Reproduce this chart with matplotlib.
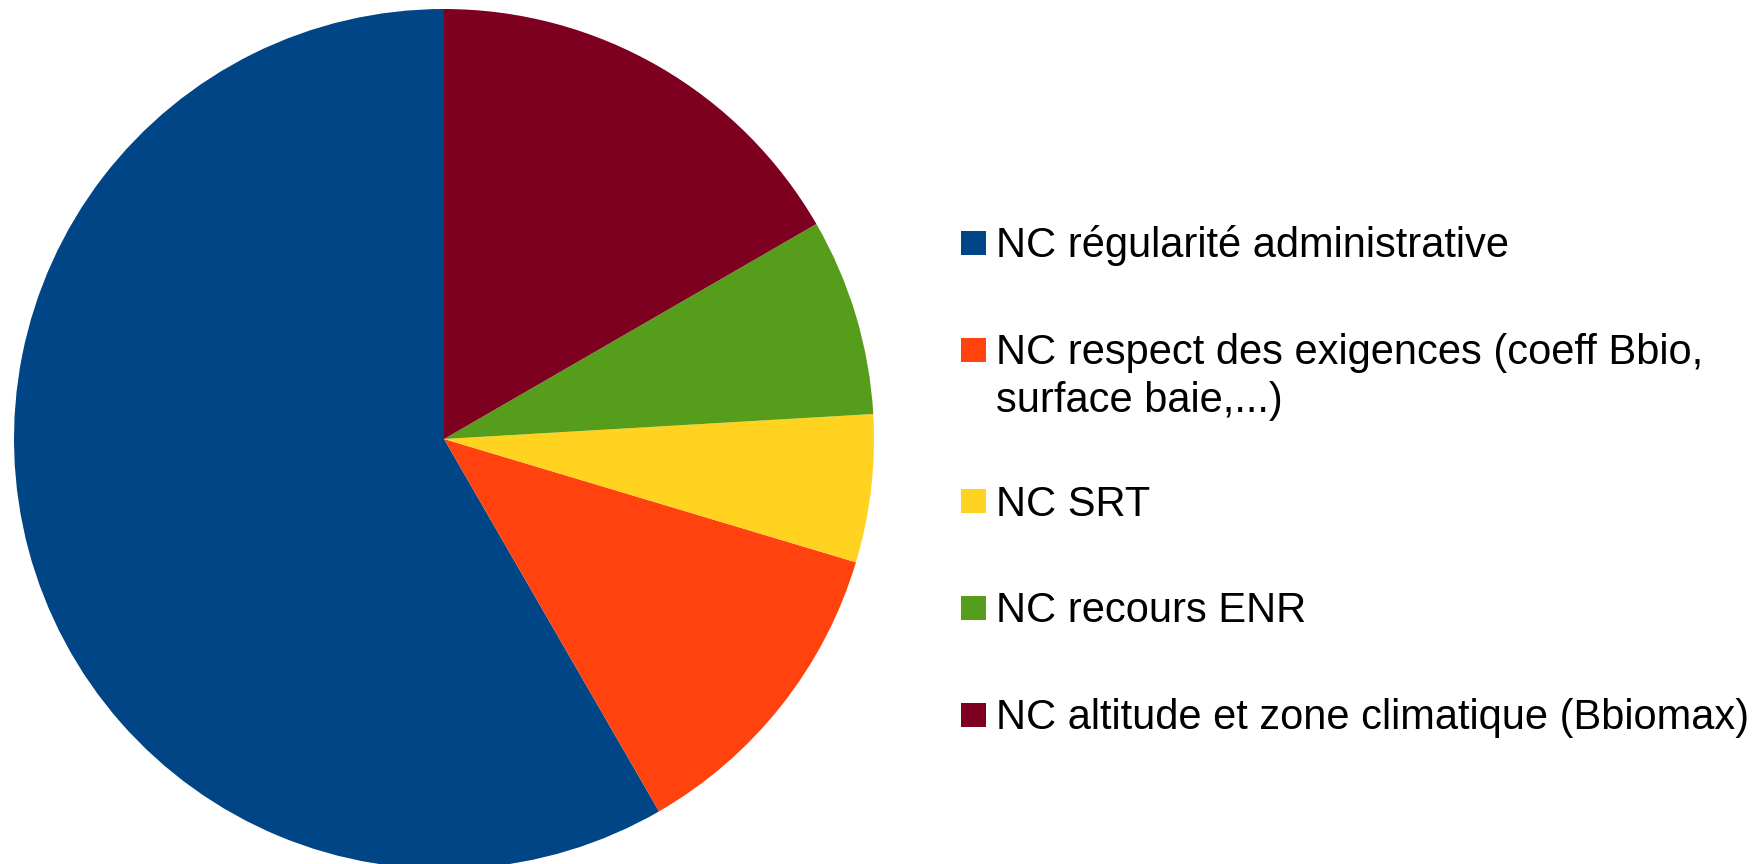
import matplotlib
matplotlib.use("Agg")
import matplotlib.pyplot as plt
from matplotlib.patches import Rectangle

# Non-conformities counts
categories = ["NC régularité administrative",
              "NC respect des exigences (coeff Bbio,\nsurface baie,...)",
              "NC SRT",
              "NC recours ENR",
              "NC altitude et zone climatique (Bbiomax)"]
counts = [63, 13, 6, 8, 18]
colors = ["#004586", "#ff420e", "#ffd320", "#579d1c", "#7e0021"]

plt.rcParams['font.family'] = ['Liberation Sans', 'DejaVu Sans']

W, H = 1762, 864
fig = plt.figure(figsize=(W / 100, H / 100), dpi=100)

# pie: centre (444, 439) px, radius 430 px
cx, cy, r = 444, 439, 430
ax = fig.add_axes([(cx - r) / W, (H - cy - r) / H, 2 * r / W, 2 * r / H])
ax.pie(counts, colors=colors, startangle=90, counterclock=True,
       wedgeprops=dict(linewidth=0), frame=False)
ax.set_xlim(-1, 1)
ax.set_ylim(-1, 1)
ax.axis('off')

# legend, drawn by hand so the square sits on the first line
box_centres = [242.5, 349.5, 501, 608, 714.5]
line_gap = 48
for lab, col, yc in zip(categories, colors, box_centres):
    fig.patches.append(Rectangle(((961) / W, (H - yc - 12) / H), 25 / W, 24 / H,
                                 transform=fig.transFigure, facecolor=col,
                                 edgecolor='none'))
    for i, line in enumerate(lab.split("\n")):
        base = yc + 14.5 + i * line_gap
        fig.text(996 / W, (H - base) / H, line, fontsize=30,
                 va='baseline', ha='left', color='black')

fig.savefig("out.png", dpi=100)
